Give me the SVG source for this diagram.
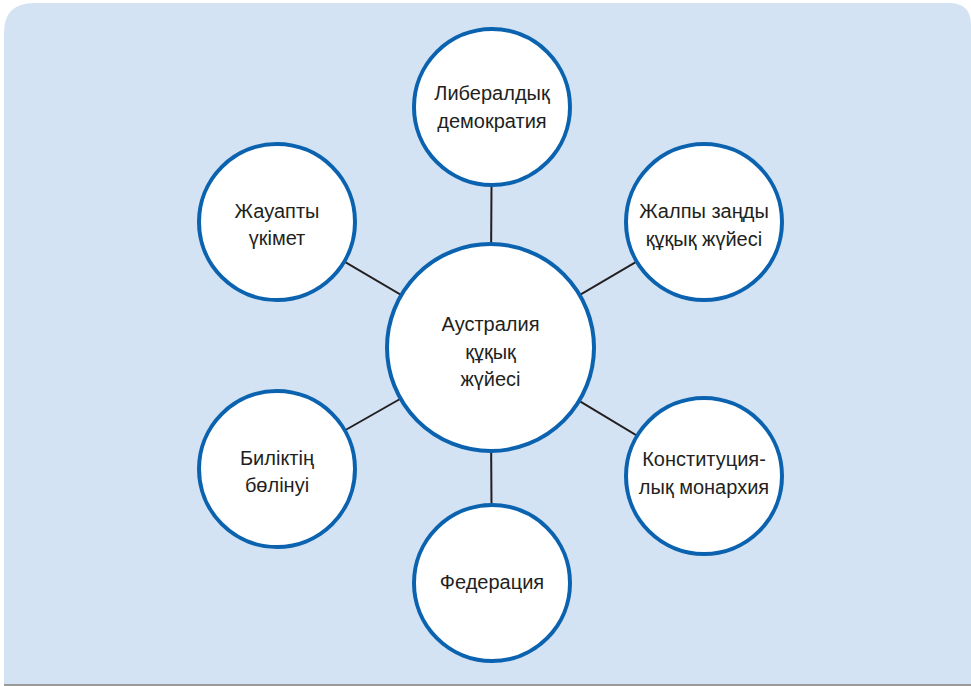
<svg xmlns="http://www.w3.org/2000/svg" width="971" height="686" viewBox="0 0 971 686">
<style>
.node circle{fill:#ffffff;stroke:#0b63b0;stroke-width:4}
.node text{font-family:"Liberation Sans",Arial,sans-serif;font-size:20px;fill:#231f20;text-anchor:middle}
.conn line{stroke:#231f20;stroke-width:2}
</style>
<path d="M4,684 L4,33 Q4,3 34,3 L949,3 Q971,3 971,25 L971,684 Z" fill="#d4e3f3"/>
<rect x="4" y="684" width="967" height="2" fill="#9a9a9a"/>
<g id="connectors" class="conn">
<line x1="490.5" y1="347.5" x2="492" y2="107"/>
<line x1="490.5" y1="347.5" x2="704" y2="222"/>
<line x1="490.5" y1="347.5" x2="704" y2="476"/>
<line x1="490.5" y1="347.5" x2="492" y2="583"/>
<line x1="490.5" y1="347.5" x2="277" y2="469"/>
<line x1="490.5" y1="347.5" x2="277" y2="222"/>
</g>
<g id="n-center" class="node">
<circle cx="490.5" cy="347.5" r="103.5"/>
<text x="490.5" y="331">Аустралия</text>
<text x="490.5" y="359">құқық</text>
<text x="490.5" y="386">жүйесі</text>
</g>
<g id="n-liberal" class="node">
<circle cx="492" cy="107" r="78"/>
<text x="492" y="100">Либералдық</text>
<text x="492" y="128">демократия</text>
</g>
<g id="n-common-law" class="node">
<circle cx="704" cy="222" r="78"/>
<text x="704" y="218">Жалпы заңды</text>
<text x="704" y="246">құқық жүйесі</text>
</g>
<g id="n-monarchy" class="node">
<circle cx="704" cy="476" r="78"/>
<text x="704" y="466">Конституция-</text>
<text x="704" y="494">лық монархия</text>
</g>
<g id="n-federation" class="node">
<circle cx="492" cy="583" r="78"/>
<text x="492" y="589">Федерация</text>
</g>
<g id="n-separation" class="node">
<circle cx="277" cy="469" r="78"/>
<text x="277" y="465">Биліктің</text>
<text x="277" y="492">бөлінуі</text>
</g>
<g id="n-responsible" class="node">
<circle cx="277" cy="222" r="78"/>
<text x="277" y="218">Жауапты</text>
<text x="277" y="245">үкімет</text>
</g>
</svg>
